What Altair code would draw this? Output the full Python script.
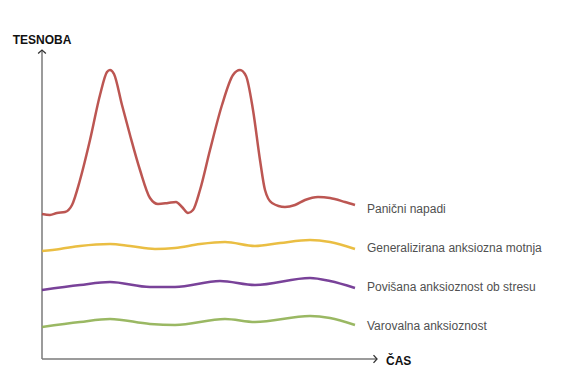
import altair as alt
import pandas as pd

# Series (x = time units, y = intensity units)
panic_x = [0, 8, 15, 23, 30, 38, 48, 58, 65, 68, 72, 80, 88, 98, 108, 116, 126, 134, 140, 146, 151, 158, 168, 180, 191, 198, 204, 211, 218, 223, 230, 243, 253, 263, 276, 288, 303, 313]
panic_y = [145, 144, 146, 147, 154, 179, 219, 264, 287, 289, 285, 254, 224, 189, 161, 155, 156, 157, 152, 146, 149, 169, 209, 254, 284, 289, 283, 249, 199, 169, 156, 152, 154, 159, 162, 161, 157, 154]

gad_x = [0, 18, 38, 68, 88, 113, 133, 158, 183, 213, 238, 268, 288, 313]
gad_y = [108, 110, 113, 115, 113, 110, 111, 115, 117, 113, 116, 119, 117, 110]

stress_x = [0, 38, 68, 108, 133, 178, 213, 268, 288, 313]
stress_y = [69, 74, 77, 72, 72, 78, 74, 81, 78, 71]

prot_x = [0, 38, 68, 108, 133, 183, 213, 268, 288, 313]
prot_y = [32, 37, 40, 35, 34, 40, 37, 43, 41, 34]

series_names = ["Panični napadi", "Generalizirana anksiozna motnja",
                "Povišana anksioznost ob stresu", "Varovalna anksioznost"]
series_colors = ["#b5443f", "#e8b72f", "#6a2d8e", "#8fb052"]
label_x = 325
label_y = [150, 111, 72, 33]

rows = []
for name, xs, ys in zip(series_names, [panic_x, gad_x, stress_x, prot_x],
                        [panic_y, gad_y, stress_y, prot_y]):
    for i, (a, b) in enumerate(zip(xs, ys)):
        rows.append({"series": name, "t": a, "v": b, "i": i})
df = pd.DataFrame(rows)

labels = pd.DataFrame({"series": series_names, "t": [label_x] * 4, "v": label_y})

XMAX = 335
YMAX = 309
xs = alt.Scale(domain=[0, XMAX], nice=False, zero=False)
ys = alt.Scale(domain=[0, YMAX], nice=False, zero=False)
color = alt.Scale(domain=series_names, range=series_colors)

axis_col = "#7a7a7a"

yaxis = alt.Chart(pd.DataFrame({"x": [0], "y": [0], "y2": [YMAX]})).mark_rule(
    color=axis_col, strokeWidth=1.5).encode(
    x=alt.X("x:Q", scale=xs, axis=None), y=alt.Y("y:Q", scale=ys, axis=None), y2="y2:Q")
xaxis = alt.Chart(pd.DataFrame({"x": [0], "x2": [XMAX], "y": [0]})).mark_rule(
    color=axis_col, strokeWidth=1.5).encode(
    x=alt.X("x:Q", scale=xs, axis=None), x2="x2:Q", y=alt.Y("y:Q", scale=ys, axis=None))

up_arrow = alt.Chart(pd.DataFrame({"x": [0], "y": [YMAX]})).mark_point(
    shape="M-1,0.9L0,0L1,0.9", filled=False, stroke="#333", strokeWidth=1.3, size=60, opacity=1).encode(
    x=alt.X("x:Q", scale=xs, axis=None), y=alt.Y("y:Q", scale=ys, axis=None))
right_arrow = alt.Chart(pd.DataFrame({"x": [XMAX], "y": [0]})).mark_point(
    shape="M-0.9,-1L0,0L-0.9,1", filled=False, stroke="#333", strokeWidth=1.3, size=60, opacity=1).encode(
    x=alt.X("x:Q", scale=xs, axis=None), y=alt.Y("y:Q", scale=ys, axis=None))

lines = alt.Chart(df).mark_line(interpolate="monotone", strokeWidth=2.5, opacity=0.9).encode(
    x=alt.X("t:Q", scale=xs, axis=None),
    y=alt.Y("v:Q", scale=ys, axis=None),
    color=alt.Color("series:N", scale=color, legend=None),
    order="i:Q")

text = alt.Chart(labels).mark_text(align="left", baseline="middle", font="Liberation Sans",
                                   fontSize=12, color="#505050").encode(
    x=alt.X("t:Q", scale=xs, axis=None), y=alt.Y("v:Q", scale=ys, axis=None), text="series:N")

ytitle = alt.Chart(pd.DataFrame({"x": [0], "y": [YMAX], "t": ["TESNOBA"]})).mark_text(
    align="center", baseline="middle", font="Liberation Sans", fontWeight="bold",
    fontSize=12, color="#111", dy=-10).encode(
    x=alt.X("x:Q", scale=xs, axis=None), y=alt.Y("y:Q", scale=ys, axis=None), text="t:N")
xtitle = alt.Chart(pd.DataFrame({"x": [XMAX], "y": [0], "t": ["ČAS"]})).mark_text(
    align="left", baseline="middle", font="Liberation Sans", fontWeight="bold",
    fontSize=12, color="#111", dx=9, dy=2).encode(
    x=alt.X("x:Q", scale=xs, axis=None), y=alt.Y("y:Q", scale=ys, axis=None), text="t:N")

chart = alt.layer(yaxis, xaxis, up_arrow, right_arrow, lines, text, ytitle, xtitle).properties(
    width=XMAX, height=YMAX,
    autosize=alt.AutoSizeParams(type="none"),
    padding={"left": 42, "top": 50, "right": 193, "bottom": 17},
).configure(background="white").configure_view(stroke=None, strokeWidth=0)

chart.save("out.html", embed_options={"renderer": "svg", "actions": False})
